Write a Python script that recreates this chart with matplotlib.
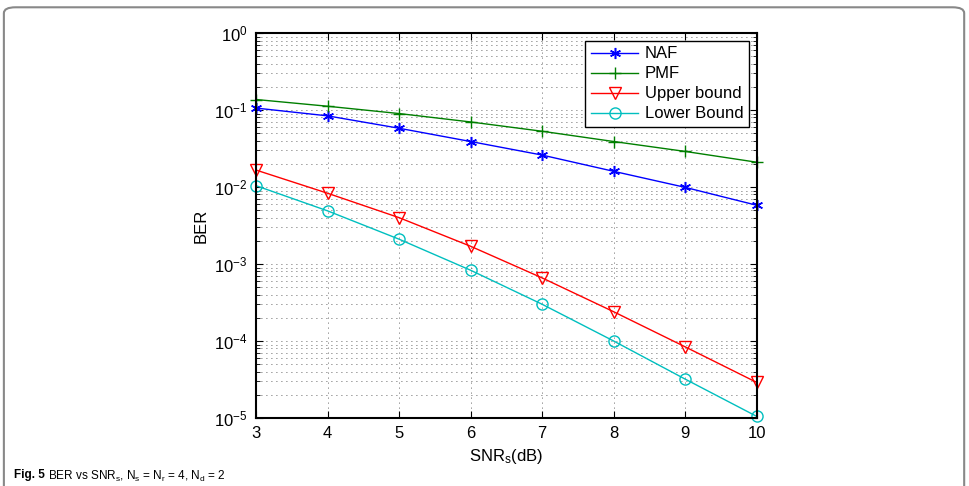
import matplotlib
matplotlib.use("Agg")

import matplotlib.pyplot as plt
from matplotlib.patches import FancyBboxPatch
from matplotlib.ticker import LogLocator, NullFormatter

# SNR_s (dB)
snr = [3, 4, 5, 6, 7, 8, 9, 10]

# BER curves
ber_naf = [0.106, 0.084, 0.058, 0.039, 0.026, 0.016, 0.0099, 0.0058]
ber_pmf = [0.137, 0.112, 0.090, 0.070, 0.053, 0.039, 0.029, 0.021]
ber_upper = [0.0166, 0.0083, 0.0040, 0.0017, 0.00066, 0.00024, 8.4e-5, 2.9e-5]
ber_lower = [0.0104, 0.0049, 0.0021, 0.00083, 0.00030, 1.0e-4, 3.2e-5, 1.05e-5]

plt.rcParams['font.family'] = ['Liberation Sans', 'DejaVu Sans']
plt.rcParams['mathtext.fontset'] = 'custom'
plt.rcParams['mathtext.rm'] = 'Liberation Sans'
plt.rcParams['mathtext.it'] = 'Liberation Sans:italic'
plt.rcParams['mathtext.bf'] = 'Liberation Sans:bold'

fig = plt.figure(figsize=(9.7, 4.86), dpi=100)
ax = fig.add_axes([0.264, 0.140, 0.516, 0.792])

ax.semilogy(snr, ber_naf, color='#0000ff', marker=(6, 2, 0), ms=8, mew=1.1, lw=1,
            label='NAF', clip_on=False)
ax.semilogy(snr, ber_pmf, color='#007f00', marker='+', ms=8, mew=1, lw=1,
            label='PMF', clip_on=False)
ax.semilogy(snr, ber_upper, color='#ff0000', marker='v', ms=9, mfc='none', mew=1, lw=1,
            label='Upper bound', clip_on=False)
ax.semilogy(snr, ber_lower, color='#00bfbf', marker='o', ms=8, mfc='none', mew=1, lw=1,
            label='Lower Bound', clip_on=False)

ax.set_xlim(3, 10)
ax.set_ylim(1e-5, 1)
ax.set_xticks(snr)
ax.yaxis.set_major_locator(LogLocator(base=10, numticks=10))
ax.yaxis.set_minor_locator(LogLocator(base=10, subs=range(2, 10), numticks=10))
ax.yaxis.set_minor_formatter(NullFormatter())

ax.grid(True, which='major', ls=(0, (1, 5)), color='#333333', lw=0.6)
ax.grid(True, which='minor', axis='y', ls=(0, (1, 5)), color='#333333', lw=0.6)
ax.tick_params(which='both', direction='in', top=True, right=True, labelsize=12)
ax.tick_params(which='major', length=5, pad=6)
ax.tick_params(which='minor', length=3)
for s in ax.spines.values():
    s.set_linewidth(1.5)

ax.set_xlabel('SNR$_\\mathregular{s}$(dB)', fontsize=12, labelpad=4)
ax.set_ylabel('BER', fontsize=12, labelpad=4)

leg = ax.legend(loc='upper right', fontsize=12, fancybox=False, framealpha=1,
                edgecolor='black', borderaxespad=0.45, handlelength=2.8,
                borderpad=0.35, labelspacing=0.3, handletextpad=0.4)
leg.get_frame().set_linewidth(1.0)
leg.set_zorder(5)

# page frame around the figure
frame = FancyBboxPatch((0.004, -0.05), 0.99, 1.035, transform=fig.transFigure,
                       boxstyle='round,pad=0,rounding_size=0.012',
                       fc='none', ec='#888888', lw=1.5, clip_on=False)
fig.patches.append(frame)

# caption at the bottom of the page
cap_y = 1 - 469 / 486
t1 = fig.text(0.014, cap_y, 'Fig. 5', fontsize=8.5, fontweight='bold', va='top', ha='left')
fig.canvas.draw()
bb = t1.get_window_extent().transformed(fig.transFigure.inverted())
fig.text(bb.x1 + 0.004, cap_y,
         r'BER vs SNR$_\mathregular{s}$, N$_\mathregular{s}$ = N$_\mathregular{r}$ = 4, '
         r'N$_\mathregular{d}$ = 2',
         fontsize=8.5, va='top', ha='left')

fig.savefig('out.png', dpi=100)
